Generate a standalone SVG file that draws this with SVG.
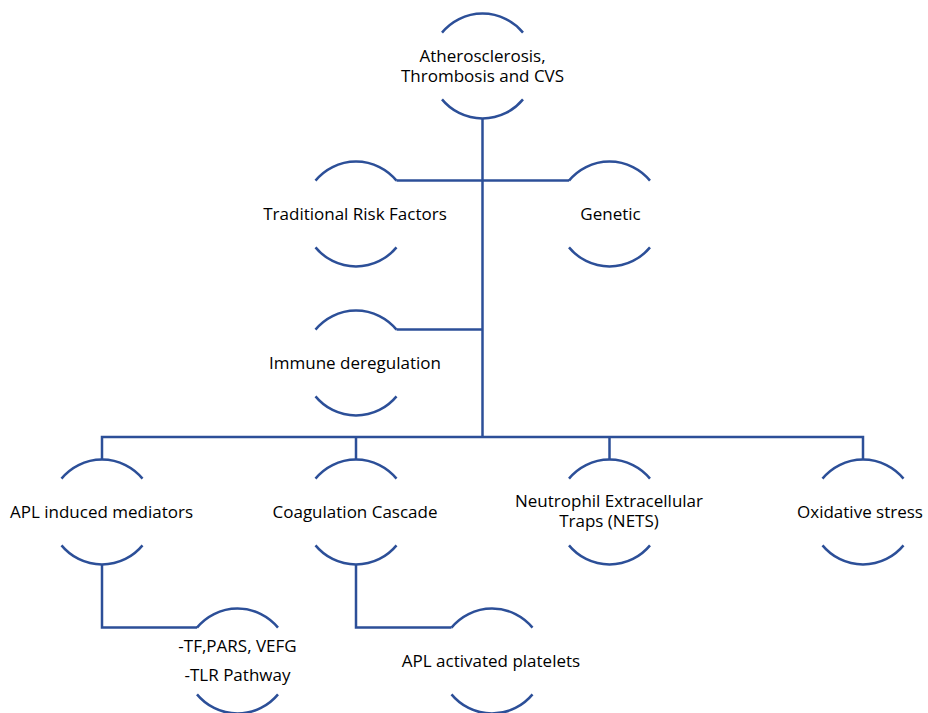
<svg xmlns="http://www.w3.org/2000/svg" xmlns:xlink="http://www.w3.org/1999/xlink" width="928" height="713" viewBox="0 0 928 713">
<style>
.ln{fill:none;stroke:#2C4F98;stroke-width:2.5;stroke-linecap:butt;stroke-linejoin:miter}
.t{font-family:"Open Sans","Liberation Sans",sans-serif;font-size:17px;fill:#000;text-anchor:middle}
</style>
<defs>
<g id="arcs" class="ln">
<path d="M-40.5,-33.4 A52.5,52.5 0 0 1 40.5,-33.4"/>
<path d="M-40.5,33.4 A52.5,52.5 0 0 0 40.5,33.4"/>
</g>
</defs>
<rect width="928" height="713" fill="#fff"/>
<g id="connectors" class="ln">
<path d="M482.5,118.5 V437"/>
<path d="M396.5,180.6 H569"/>
<path d="M396.5,329.6 H482.5"/>
<path d="M102,459.5 V437 H863 V459.5"/>
<path d="M356,437 V459.5"/>
<path d="M609.5,437 V459.5"/>
<path d="M102,564.5 V627.6 H197"/>
<path d="M356,564.5 V627.6 H451.5"/>
</g>
<g id="n-top"><use xlink:href="#arcs" x="482.5" y="66"/><text class="t" x="482.5" y="62">Atherosclerosis,<tspan x="482.5" dy="19.5">Thrombosis and CVS</tspan></text></g>
<g id="n-trf"><use xlink:href="#arcs" x="356" y="214"/><text class="t" x="355" y="220">Traditional Risk Factors</text></g>
<g id="n-gen"><use xlink:href="#arcs" x="609.5" y="214"/><text class="t" x="610.5" y="220">Genetic</text></g>
<g id="n-imm"><use xlink:href="#arcs" x="356" y="363"/><text class="t" x="355" y="369">Immune deregulation</text></g>
<g id="n-apl"><use xlink:href="#arcs" x="102" y="512"/><text class="t" x="101.5" y="517.5">APL induced mediators</text></g>
<g id="n-coag"><use xlink:href="#arcs" x="356" y="512"/><text class="t" x="355" y="517.5">Coagulation Cascade</text></g>
<g id="n-nets"><use xlink:href="#arcs" x="609.5" y="512"/><text class="t" x="609" y="507">Neutrophil Extracellular<tspan x="609" dy="19.5">Traps (NETS)</tspan></text></g>
<g id="n-ox"><use xlink:href="#arcs" x="863" y="512"/><text class="t" x="860" y="517.5">Oxidative stress</text></g>
<g id="n-tf"><use xlink:href="#arcs" x="237.5" y="661"/><text class="t" x="237.5" y="652">-TF,PARS, VEFG<tspan x="237.5" dy="28.5">-TLR Pathway</tspan></text></g>
<g id="n-plt"><use xlink:href="#arcs" x="492" y="661"/><text class="t" x="491" y="667">APL activated platelets</text></g>
</svg>
